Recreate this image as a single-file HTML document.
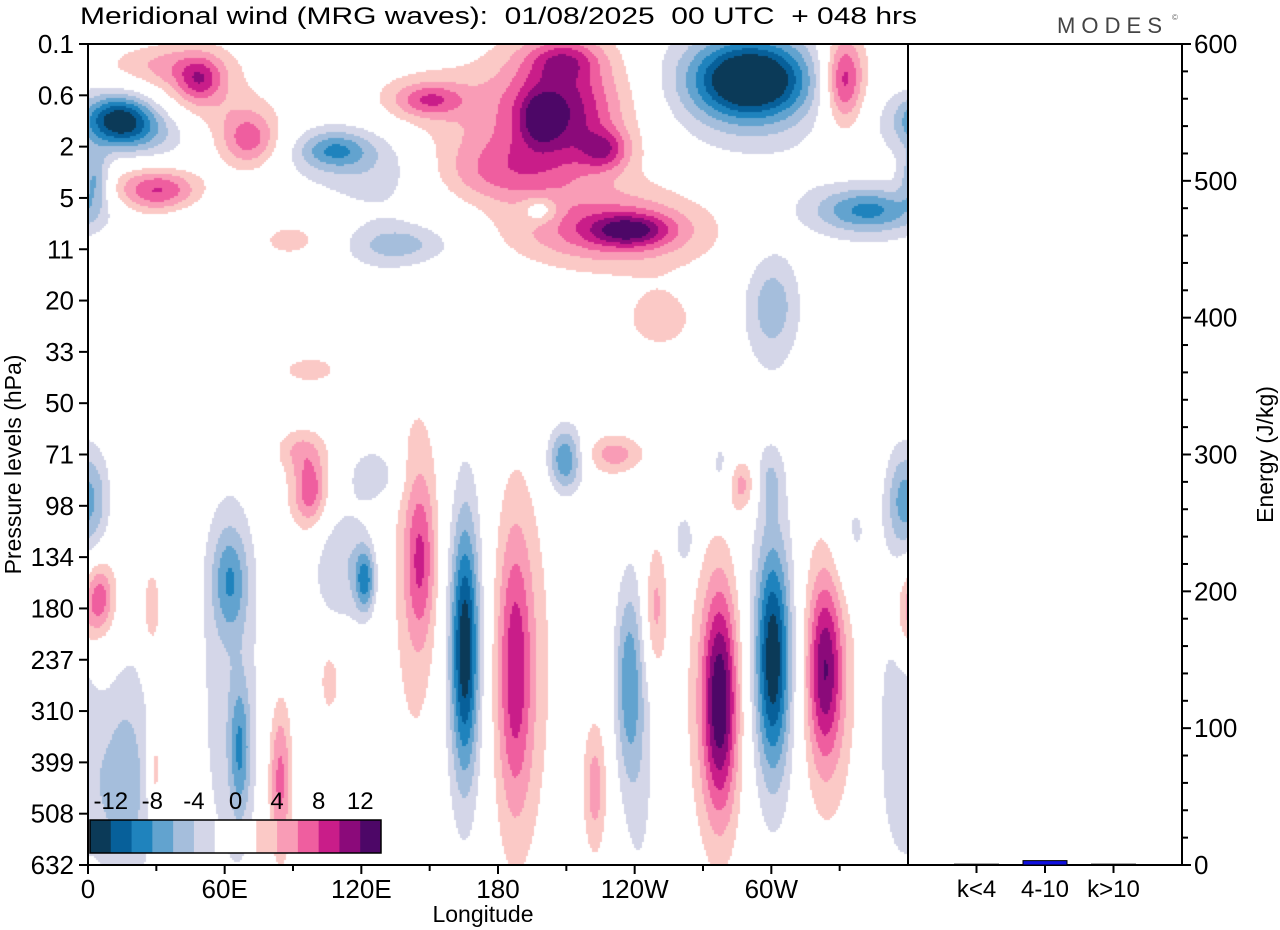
<!DOCTYPE html>
<html><head><meta charset="utf-8">
<style>
html,body{margin:0;padding:0;background:#fff;}
#wrap{position:relative;width:1280px;height:930px;overflow:hidden;font-family:"Liberation Sans",sans-serif;}
canvas{position:absolute;left:88px;top:44px;}
svg{position:absolute;left:0;top:0;}
</style></head>
<body>
<div id="wrap">
<canvas id="cv" width="820" height="821"></canvas>
<svg id="sv" width="1280" height="930"></svg>
</div>
<script>
// ---- data ----
const levelLabels = ["0.1","0.6","2","5","11","20","33","50","71","98","134","180","237","310","399","508","632"];
const lonTicks = [0,60,120,180,240,300];
const lonLabels = ["0","60E","120E","180","120W","60W"];
const energyTicks = [0,100,200,300,400,500,600];
const energyCats = ["k<4","4-10","k>10"];
const energyVals = [0.6,3.2,0.6];
const cbarLabels = ["-12","-8","-4","0","4","8","12"];
const binColors = ["#0b3a58","#07609a","#1f83bd","#62a3cf","#a5bedc","#d4d6e8","#ffffff","#ffffff","#fbc9c6","#f99cb6","#ef5e9f","#c91d89","#8b0a7a","#4d0767"];
// blobs: lon(deg), level index, amplitude(m/s), lon spread(deg), level spread
const blobLon = [165.5,165.5,187.5,187.5,145.8,145.8,209.4,231.4,249,237,222.6,277.4,277.4,300.7,300.7,323.5,323.5,287,262,278,299.4,356.5,358.7,121.6,110.6,97.5,97.5,126,62.3,66.7,62.3,5.3,5.3,28,4,84.3,29.4,11.9,106.2,92.2,
 14,14,3,31.6,31.6,71,71,49,49,108.4,108.4,150,150,207,198.4,227,209,207,181,238,238,238,198.4,290.6,290.6,290.6,332,332,343,343,300.7,251,97.5,88.7,137,31.6,62,40,
 18,242,355,335,130,30,135,175,50,300,210,45,30];
const blobLev = [11.8,11.8,12.2,12.2,10.06,10.5,8.1,8.0,11.0,12.4,14.5,12.8,12.8,12.0,12.0,12.2,12.2,8.6,9.67,8.3,8.5,8.9,11.2,10.45,10.06,8.7,8.7,8.4,10.45,13.76,12.6,10.8,10.8,11.0,8.9,14.35,14.15,14.5,12.4,7.9,
 1.48,1.48,2.65,2.85,2.85,1.87,1.87,0.7,0.7,2.07,2.07,1.09,1.09,1.3,1.44,2.07,0.3,1.3,2.65,3.63,3.63,3.63,3.24,0.7,0.7,0.8,0.7,0.7,3.24,3.24,4.99,5.38,6.35,3.82,3.9,0.4,2.4,2.5,
 14.2,13.5,13,9.6,2.6,1.0,4.0,2.2,3.2,5.4,3.6,2.4,1.8];
const blobAmp = [-11,-4,6,4,6,3,-8,5,5,-6,5,10,4.5,-10,-4.5,8,4.5,5,-4,-3,-3,-5,3,-8,-4,5,3,-4,-6,-6,-3,5,3,4,-4,7,4,-3,3,3,
 -10,-5,-6,6,4,5,3,5,3,-5,-3,5,3,7,5,6,5,5,3,7,4,2,-4,-10,-5,-3,7,4,-6,-3,-3,3,3,3,-3,3,-2,-2,
 -3,-3,-3,-3,-2.5,2.5,-2.5,3,-2.5,-2.5,2.5,2.5,-2.5];
const blobSLon = [4.5,10,5.5,13,5,11,6,10,4,4.5,4,5.5,11,5.5,11,5.5,11,5,3.5,4.5,4.5,5,4,3.5,10,5,10,8,6,3.5,12,4,10,3,5,4,2.5,11,4,8,
 11,22,5,13,24,9,15,7,13,11,22,11,22,17,6,8,12,30,22,13,26,35,6,17,26,35,6,11,17,26,9,13,11,13,15,20,20,15,
 8,6,8,8,22,25,20,25,20,10,25,20,15];
const blobSLev = [1.8,3,2,3,1.2,3.5,0.5,0.3,1,1.4,1,1.6,2.3,1.6,2.5,1.3,2.3,0.4,0.4,0.6,0.5,0.8,0.6,0.5,1,0.5,0.8,0.4,0.8,1,3.5,0.5,0.8,0.6,0.8,1.2,0.6,1.2,0.6,0.3,
 0.35,0.6,0.4,0.3,0.5,0.4,0.7,0.3,0.6,0.25,0.5,0.23,0.5,0.8,0.35,0.3,0.3,1.2,0.4,0.23,0.5,0.8,0.2,0.5,0.8,1.1,0.6,1,0.3,0.6,0.7,0.5,0.23,0.3,0.25,0.3,0.5,0.5,
 2.5,2.5,2.5,1,0.6,0.6,0.5,0.5,0.6,1,0.5,0.6,0.4];
const SPREAD = 1.3;

// ---- geometry ----
const X0=88,X1=908,Y0=44,Y1=865;
const xLon = l => X0 + (l/360)*(X1-X0);
const yLev = i => Y0 + (i/(levelLabels.length-1))*(Y1-Y0);
const eX0=908,eX1=1182;
const yEn = v => Y1 - (v/600)*(Y1-Y0);

// ---- field ----
const cv=document.getElementById('cv'),ctx=cv.getContext('2d');
const step=2;
function field(lon,lev){
  let s=0;
  for(let k=0;k<blobLon.length;k++){
    let dl=lon-blobLon[k]; if(dl>180)dl-=360; if(dl<-180)dl+=360;
    const a=dl/(blobSLon[k]*SPREAD), b=(lev-blobLev[k])/(blobSLev[k]*SPREAD);
    const e=a*a+b*b; if(e<16) s+=blobAmp[k]*Math.exp(-e);
  }
  return s;
}
function bin(v){let i=Math.floor(v/2)+7; if(i<0)i=0; if(i>13)i=13; return i;}
for(let py=0;py<821;py+=step){
  const lev=(py+step/2)/(Y1-Y0)*(levelLabels.length-1);
  for(let px=0;px<820;px+=step){
    const lon=(px+step/2)/(X1-X0)*360;
    const b=bin(field(lon,lev));
    if(b===6||b===7) continue;
    ctx.fillStyle=binColors[b];
    ctx.fillRect(px,py,step,step);
  }
}

// ---- svg ----
const sv=document.getElementById('sv');const NS='http://www.w3.org/2000/svg';
function mk(tag,attrs,parent){const e=document.createElementNS(NS,tag);for(const k in attrs)e.setAttribute(k,attrs[k]);(parent||sv).appendChild(e);return e;}
function txt(x,y,s,size,anchor,name,extra){const t=mk('text',Object.assign({x:x,y:y,'font-size':size,'text-anchor':anchor||'start','font-family':'Liberation Sans, sans-serif',fill:'#000'},extra||{}));t.textContent=s;return t;}

// title
txt(80,24,"Meridional wind (MRG waves):  01/08/2025  00 UTC  + 048 hrs",24,'start','chart-title',{style:'white-space:pre',textLength:837,lengthAdjust:'spacingAndGlyphs'});
txt(1057,33,"MODES",22,'start','modes-logo',{fill:'#444','letter-spacing':'7',style:'white-space:pre',textLength:112});
txt(1172,20,"©",8,'start','logo-copyright',{fill:'#666'});

// frame
const fr=mk('path',{d:`M${X0},${Y0}H${eX1}V${Y1}H${X0}Z M${X1},${Y0}V${Y1}`,fill:'none',stroke:'#000','stroke-width':2});



// left y axis
levelLabels.forEach((l,i)=>{
  const y=yLev(i);
  const t=mk('line',{x1:X0-9,x2:X0,y1:y,y2:y,stroke:'#000','stroke-width':2});
  
  
  txt(X0-14,y+9,l,26,'end','y-tick-label');
});
txt(0,0,"Pressure levels (hPa)",23,'middle','y-axis-title',{transform:`translate(21,${(Y0+Y1)/2+10}) rotate(-90)`});

// bottom x axis
for(let l=0;l<360;l+=30){
  const x=xLon(l);const major=l%60===0;
  const t=mk('line',{x1:x,x2:x,y1:Y1,y2:Y1+(major?9:6),stroke:'#000','stroke-width':2});
  
  
}
lonTicks.forEach((l,i)=>{txt(xLon(l),Y1+33,lonLabels[i],26,'middle','x-tick-label');});
txt(483,922,"Longitude",23,'middle','x-axis-title');

// right energy axis
for(let v=0;v<=600;v+=20){
  const y=yEn(v);const major=v%100===0;
  const t=mk('line',{x1:eX1,x2:eX1+(major?9:6),y1:y,y2:y,stroke:'#000','stroke-width':2});
  
  
}
energyTicks.forEach(v=>{txt(eX1+12,yEn(v)+9,String(v),26,'start','energy-tick-label');});
txt(0,0,"Energy (J/kg)",23,'middle','energy-axis-title',{transform:`translate(1273,${(Y0+Y1)/2}) rotate(-90)`});

// energy bars
const catW=(eX1-eX0)/4;
energyCats.forEach((c,i)=>{
  const cx=eX0+catW*(i+1);
  const t=mk('line',{x1:cx,x2:cx,y1:Y1,y2:Y1+8,stroke:'#000','stroke-width':2});
  
  
  const h=Y1-yEn(energyVals[i]);
  const r=mk('rect',{x:cx-22,y:Y1-h,width:44,height:h,fill:i===1?'#1010e0':'#3030a0',stroke:'#000','stroke-width':1});
  
  
  txt(cx,Y1+32,c,24,'middle','energy-cat-label');
});

// colorbar
const cbX=90,cbY=820,cbW=291,cbH=33,bw=cbW/14;
const cbg=mk('g',{});


binColors.forEach((c,i)=>{
  const r=mk('rect',{x:cbX+i*bw,y:cbY,width:bw+0.5,height:cbH,fill:c},cbg);
  
  
});
const cbr=mk('rect',{x:cbX,y:cbY,width:cbW,height:cbH,fill:'none',stroke:'#000','stroke-width':1.5},cbg);


cbarLabels.forEach((l,i)=>{
  txt(cbX+bw*(1+2*i), 809, l, 24, 'middle','colorbar-label');
});
</script>
</body></html>
